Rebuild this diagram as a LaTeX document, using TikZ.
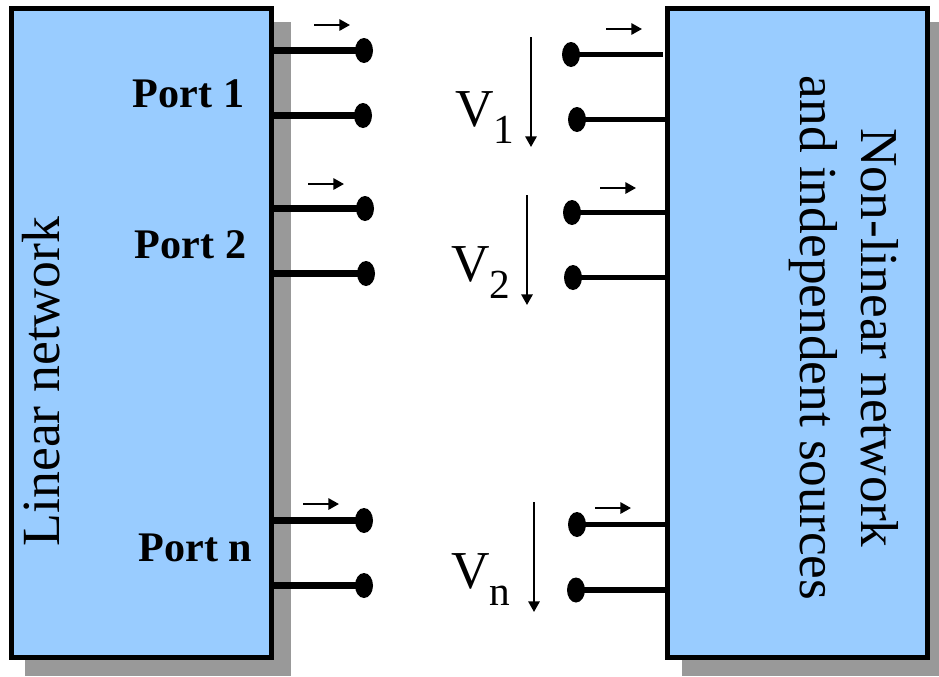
\documentclass[tikz,border=0pt]{standalone}
\usepackage{fontspec}
\setmainfont{Liberation Serif}
\usetikzlibrary{shapes.geometric,arrows.meta}
\tikzset{
 netbox/.style={draw=black,fill=boxblue,line width=3.75pt,minimum width=195pt,minimum height=486.75pt,inner sep=0pt,outer sep=0pt},
 term/.style={ellipse,fill=black,draw=none,minimum width=13.5pt,minimum height=18.75pt,inner sep=0pt,outer sep=0pt},
 wire/.style={line width=4.9pt},
 wirer/.style={line width=4.3pt},
 small arrow/.style={line width=1.6pt,-{Triangle[length=8pt,width=8.5pt]}},
 volt arrow/.style={line width=1.6pt,-{Triangle[length=8pt,width=8.5pt]}},
 portlabel/.style={font=\fontsize{31.6}{31.6}\selectfont\bfseries,anchor=base,inner sep=0pt},
 voltlabel/.style={font=\fontsize{40}{40}\selectfont,anchor=base west,inner sep=0pt},
 netlabel/.style={font=\fontsize{40}{46}\selectfont,align=center,inner sep=0pt},
}
\definecolor{boxblue}{HTML}{99CCFF}
\definecolor{shadowgrey}{HTML}{999999}
\newcommand{\vsub}[1]{\raisebox{-12.75pt}{\fontsize{31}{31}\selectfont#1}}
\begin{document}
\begin{tikzpicture}[x=0.75pt,y=-0.75pt]
\useasboundingbox (0,0) rectangle (939,676);
% shadows
\fill[shadowgrey] (25,22) rectangle (291,676);
\fill[shadowgrey] (682,22) rectangle (939,676);
% boxes
\node[netbox] (L) at (141.5,333) {};
\node[netbox] (R) at (797.5,333) {};
% terminals
\foreach \n/\x/\y in {a1/364/50.5,a2/363/115.5,b1/365/208.5,b2/366/273.5,c1/364/520.5,c2/364/585.5,
                      d1/571/54.5,d2/577/119.5,e1/572/212.5,e2/573/277.5,f1/577/524.5,f2/576/590}
  \node[term] (\n) at (\x,\y) {};
% wires left
\foreach \n in {a1,a2,b1,b2,c1,c2}
  \draw[wire] (\n.center) -- (\n.center -| L.east);
% wires right
\coordinate (gap) at (663,54.5);
\draw[wirer] (d1.center) -- (gap);
\foreach \n in {d2,e1,e2,f1,f2}
  \draw[wirer] (\n.center) -- (\n.center -| R.west);
% current arrows
\foreach \i/\x/\y in {p/314/25,q/308/184,r/303/504,s/606/29,t/600/188,u/595/508}{
  \coordinate (\i0) at (\x,\y);
  \coordinate (\i1) at (\x+36,\y);
  \draw[small arrow] (\i0) -- (\i1);
}
% voltage arrows
\foreach \i/\x/\y in {v/531/37,w/527/195,z/534/502}{
  \coordinate (\i0) at (\x,\y);
  \coordinate (\i1) at (\x,\y+110);
  \draw[volt arrow] (\i0) -- (\i1);
}
% labels
\node[portlabel] (P1) at (188.5,107) {Port 1};
\node[portlabel] (P2) at (190.5,258) {Port 2};
\node[portlabel] (Pn) at (195.5,561) {Port n};
\node[voltlabel] (V1) at (455,126) {V\vsub{1}};
\node[voltlabel] (V2) at (451,281) {V\vsub{2}};
\node[voltlabel] (Vn) at (451,588) {V\vsub{n}};
\node[font=\fontsize{40.3}{40.3}\selectfont,rotate=90,anchor=base,inner sep=0pt] (LN) at (59,381.5) {Linear network};
\node[netlabel,rotate=-90] (RN) at (844,338) {Non-linear network\\and independent sources};
\end{tikzpicture}
\end{document}
